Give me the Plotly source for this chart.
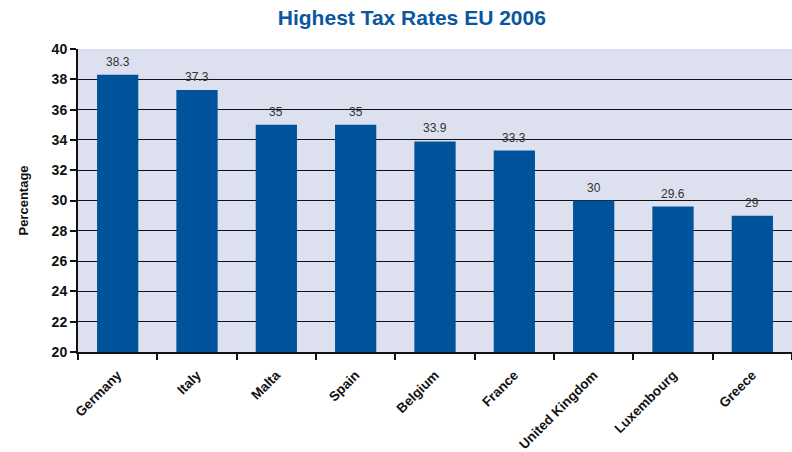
import plotly.graph_objects as go

countries = ["Germany", "Italy", "Malta", "Spain", "Belgium", "France",
             "United Kingdom", "Luxembourg", "Greece"]
rates = [38.3, 37.3, 35, 35, 33.9, 33.3, 30, 29.6, 29]
labels = ["38.3", "37.3", "35", "35", "33.9", "33.3", "30", "29.6", "29"]

fig = go.Figure(go.Bar(
    x=countries, y=rates,
    marker=dict(color="#00529B", line=dict(width=0)),
    width=0.52,
))

for c, v, t in zip(countries, rates, labels):
    fig.add_annotation(x=c, y=v, text=t, showarrow=False, yanchor="bottom", yshift=4,
                       font=dict(family="Liberation Sans, Arial", size=12, color="#333333"))

fig.update_layout(
    width=792, height=452,
    margin=dict(l=78, r=0, t=49, b=100),
    paper_bgcolor="white", plot_bgcolor="#DDE0EE",
    showlegend=False,
    title=dict(text="<b>Highest Tax Rates EU 2006</b>", x=0.52, xanchor="center",
               y=0.96, yanchor="middle",
               font=dict(family="Liberation Sans, Arial", size=21, color="#0A57A0")),
    font=dict(family="Liberation Sans, Arial", color="#111111"),
)
fig.update_xaxes(
    showline=True, linecolor="#111111", linewidth=2,
    ticks="outside", tickson="boundaries", ticklen=6, tickwidth=1.5, tickcolor="#111111",
    tickangle=-45, tickfont=dict(size=13.5, family="Liberation Sans, Arial", color="#111111"),
    ticklabelstandoff=8,
    tickprefix="<b>", ticksuffix="</b>", showgrid=False,
)
fig.update_yaxes(
    range=[20, 40], dtick=2, showline=True, linecolor="#111111", linewidth=2,
    ticks="outside", ticklen=6, tickwidth=1.5, tickcolor="#111111",
    showgrid=True, gridcolor="#111111", gridwidth=1.2,
    tickfont=dict(size=14, family="Liberation Sans, Arial", color="#111111"),
    tickprefix="<b>", ticksuffix="</b>",
    title=dict(text="<b>Percentage</b>", font=dict(size=13, color="#111111"), standoff=20),
)

fig.write_html("out.html")
